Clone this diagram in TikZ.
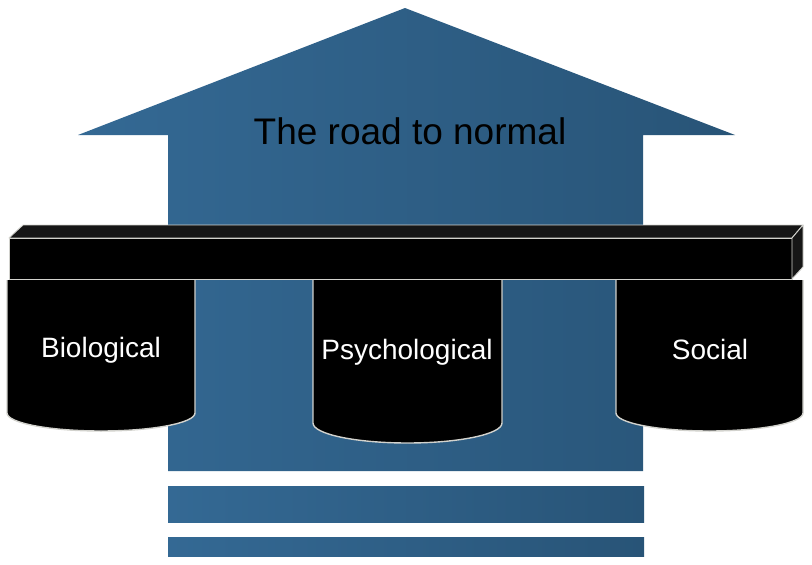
\documentclass[tikz,border=0pt]{standalone}
\usepackage{fontspec}
\setmainfont{Liberation Sans}
\definecolor{blueL}{RGB}{52,105,148}
\definecolor{blueR}{RGB}{40,84,119}
\definecolor{edgeG}{RGB}{210,210,205}
\definecolor{topF}{RGB}{22,22,22}
\begin{document}
\begin{tikzpicture}[x=1pt,y=1pt,
  bluefill/.style={left color=blueL,right color=blueR,draw=none},
  pillar/.style={fill=black,draw=edgeG,line width=1.4pt},
  beamface/.style={draw=edgeG,line width=0.9pt,line join=round},
  pillartext/.style={text=white,font=\fontsize{28}{30}\selectfont},
  titletext/.style={text=black,font=\fontsize{37}{40}\selectfont}]
\useasboundingbox (0,0) rectangle (812,-565);
% arrow
\path[bluefill] (405,-8) -- (735,-135) -- (643,-135) -- (643,-471) -- (168,-471) -- (168,-135) -- (78,-135) -- cycle;
% steps
\path[bluefill] (168,-486) rectangle (644,-522);
\path[bluefill] (168,-537) rectangle (644,-556);
% pillars
\draw[pillar] (7,-280) -- (7,-413) arc[start angle=180,end angle=360,x radius=94,y radius=18] -- (195,-280);
\draw[pillar] (313,-280) -- (313,-423) arc[start angle=180,end angle=360,x radius=94.5,y radius=20] -- (502,-280);
\draw[pillar] (616,-280) -- (616,-413) arc[start angle=180,end angle=360,x radius=93.5,y radius=18] -- (803,-280);
% beam
\draw[beamface,fill=topF] (9,-238) -- (23,-225) -- (803,-225) -- (792,-238) -- cycle;
\draw[beamface,fill=black] (9,-238) rectangle (792,-279);
\draw[beamface,fill=topF] (792,-238) -- (803,-225) -- (803,-267) -- (792,-279) -- cycle;
% texts
\node[titletext] (title) at (410,-131) {The road to normal};
\node[pillartext] (bio) at (101,-350) {Biological};
\node[pillartext] (psy) at (407,-352) {Psychological};
\node[pillartext] (soc) at (710,-349) {Social};
\end{tikzpicture}
\end{document}
